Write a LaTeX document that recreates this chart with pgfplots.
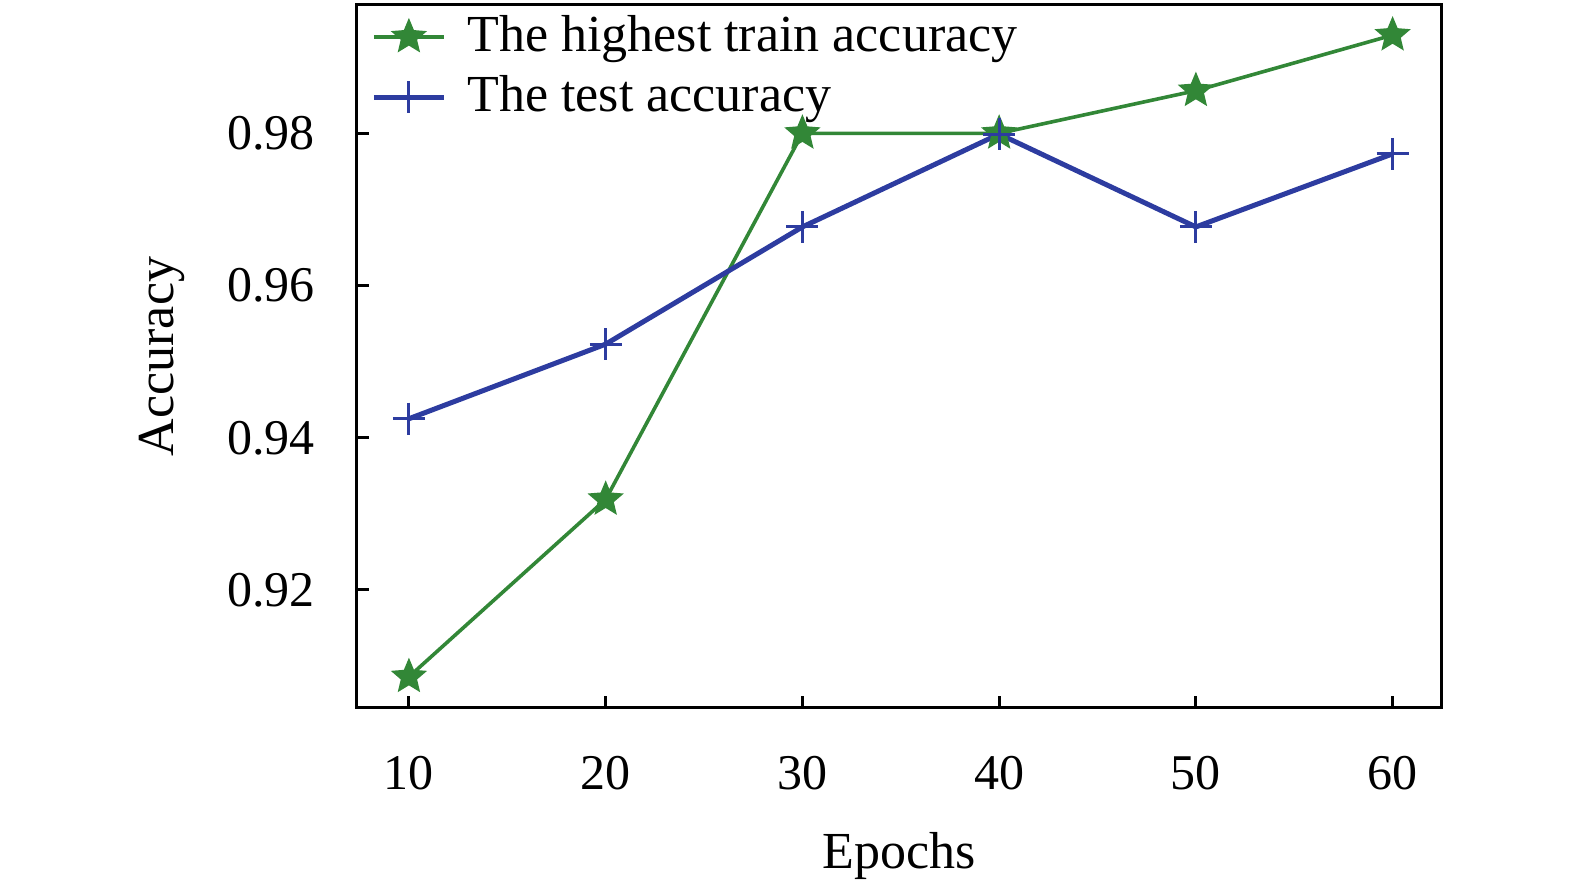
\documentclass[border=0pt]{standalone}
\usepackage{fontspec}
\setmainfont{Liberation Serif}
\usepackage{pgfplots}
\pgfplotsset{compat=1.18}
\definecolor{tgreen}{RGB}{50,135,55}
\definecolor{tblue}{RGB}{45,60,160}
\pgfdeclareplotmark{fstar}{%
  \pgfpathmoveto{\pgfpointpolar{90}{\pgfplotmarksize}}%
  \pgfpathlineto{\pgfpointpolar{126}{0.45\pgfplotmarksize}}%
  \pgfpathlineto{\pgfpointpolar{162}{\pgfplotmarksize}}%
  \pgfpathlineto{\pgfpointpolar{198}{0.45\pgfplotmarksize}}%
  \pgfpathlineto{\pgfpointpolar{234}{\pgfplotmarksize}}%
  \pgfpathlineto{\pgfpointpolar{270}{0.45\pgfplotmarksize}}%
  \pgfpathlineto{\pgfpointpolar{306}{\pgfplotmarksize}}%
  \pgfpathlineto{\pgfpointpolar{342}{0.45\pgfplotmarksize}}%
  \pgfpathlineto{\pgfpointpolar{18}{\pgfplotmarksize}}%
  \pgfpathlineto{\pgfpointpolar{54}{0.45\pgfplotmarksize}}%
  \pgfpathclose
  \pgfusepathqfillstroke
}
\begin{document}
\fontsize{24}{29}\selectfont
\begin{tikzpicture}
\begin{axis}[
  name=ax,
  scale only axis,
  width=542pt, height=351.5pt,
  xmin=7.36, xmax=62.46,
  ymin=0.9045, ymax=0.99686,
  xtick={10,20,30,40,50,60},
  ytick={0.92,0.94,0.96,0.98},
  yticklabel style={/pgf/number format/fixed,/pgf/number format/precision=2,/pgf/number format/fixed zerofill, xshift=-13pt},
  xticklabel style={yshift=-16pt},
  /pgf/number format/assume math mode=true,
  tick align=inside,
  xtick pos=bottom, ytick pos=left,
  major tick length=6pt,
  every tick/.style={line width=1.5pt, black},
  axis line style={line width=1.5pt},
  tick label style={font=\fontsize{25}{30}\selectfont},
  label style={font=\fontsize{26}{31}\selectfont},
  xlabel={Epochs},
  ylabel={Accuracy},
  xlabel style={at={(axis description cs:0.5,0)}, anchor=north, yshift=-54pt},
  ylabel style={at={(axis description cs:-0.1439,0.5)}, anchor=south},
  legend style={at={(axis description cs:0,1)}, anchor=north west, draw=none, fill=none,
    font=\fontsize{26}{31}\selectfont, row sep=4.5pt, xshift=4pt, yshift=-1pt,
    /tikz/every odd column/.append style={column sep=8.5pt}},
  legend cell align=left,
  legend image code/.code={\draw[mark repeat=2,mark phase=2] plot coordinates {(0pt,0pt)(17.5pt,0pt)(35pt,0pt)};},
]
\addplot[color=tgreen, line width=1.8pt, mark=fstar, mark size=8.5pt, mark options={solid, fill=tgreen, draw=tgreen, line width=0.8pt}] coordinates {
(10,0.9086) (20,0.9319) (30,0.9800) (40,0.9800) (50,0.9856) (60,0.9929)
};
\addlegendentry{The highest train accuracy}
\addplot[color=tblue, line width=2.5pt, mark=+, mark size=8pt, mark options={line width=1.5pt}] coordinates {
(10,0.9425) (20,0.9523) (30,0.9677) (40,0.9799) (50,0.9677) (60,0.9773)
};
\addlegendentry{The test accuracy}
\end{axis}
\path (ax.south west) ++(-178.5pt,-89pt) coordinate (bbl);
\path (ax.north east) ++(67pt,2.5pt) coordinate (bbr);
\path (bbl) rectangle (bbr);
\end{tikzpicture}
\end{document}
